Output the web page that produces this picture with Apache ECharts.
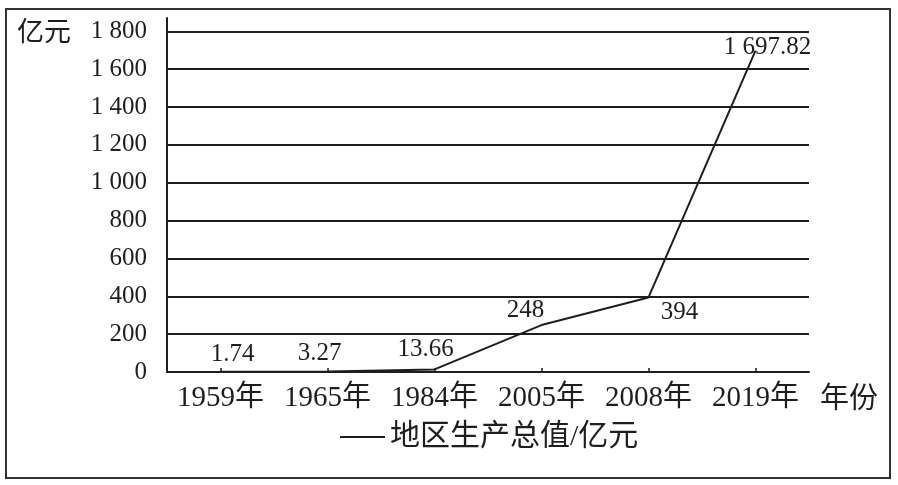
<!DOCTYPE html>
<html><head><meta charset="utf-8">
<script src="https://cdn.jsdelivr.net/npm/echarts@6/dist/echarts.min.js"></script>
<style>html,body{margin:0;padding:0;background:#fff}#c{width:898px;height:485px}</style>
</head><body><div id="c"></div>
<script>
const categories = ['1959年','1965年','1984年','2005年','2008年','2019年'];
const gdpValues = [1.74, 3.27, 13.66, 248, 394, 1697.82];
const seriesName = '地区生产总值/亿元';
const yUnit = '亿元';
const xUnit = '年份';

const SERIF = '"Liberation Serif","Noto Sans CJK SC",serif';
const INK = '#1e1e1e';
function fmt(v){
  const s = String(v).split('.');
  s[0] = s[0].replace(/\B(?=(\d{3})+(?!\d))/g, ' ');
  return s.join('.');
}
const labelStyle = [
  {position:'top', offset:[12,0]},
  {position:'top', offset:[-8,0]},
  {position:'top', offset:[-9,-2]},
  {position:'top', offset:[-16,3]},
  {position:'bottom', offset:[31,-3]},
  {position:'top', offset:[12,14]}
];
const chart = echarts.init(document.getElementById('c'));
chart.setOption({
  backgroundColor:'#fff',
  animation:false,
  grid:{left:167, right:89, top:18, bottom:113},
  xAxis:{
    type:'category', data:categories, boundaryGap:true,
    axisLine:{lineStyle:{color:INK, width:2}},
    axisTick:{show:true, inside:true, alignWithLabel:true, interval:0, length:4, lineStyle:{color:INK,width:1.5}},
    axisLabel:{fontFamily:SERIF, fontSize:29, color:INK, margin:12, interval:0, hideOverlap:false}
  },
  yAxis:{
    type:'value', min:0, max:1870, interval:200,
    axisLine:{show:true, lineStyle:{color:INK, width:2}},
    axisTick:{show:false},
    splitLine:{show:true, showMaxLine:false, lineStyle:{color:INK, width:2}},
    axisLabel:{fontFamily:SERIF, fontSize:25, color:INK, margin:20, showMaxLabel:false,
      formatter:function(v){return v>1800?'':fmt(v);}}
  },
  legend:{
    bottom:28, left:335, icon:'rect', itemWidth:45, itemHeight:2, itemGap:10,
    textStyle:{fontFamily:SERIF, fontSize:30, color:INK},
    data:[seriesName]
  },
  graphic:[
    {type:'rect', shape:{x:6,y:9,width:884,height:469}, style:{fill:'none', stroke:'#333', lineWidth:2}},
    {type:'text', left:17, top:17, style:{text:yUnit, font:'27px "Noto Sans CJK SC"', fill:INK}},
    {type:'text', left:820, top:382, style:{text:xUnit, font:'29px "Noto Sans CJK SC"', fill:INK}}
  ],
  series:[{
    name:seriesName, type:'line', showSymbol:true, symbol:'circle', symbolSize:0.1,
    lineStyle:{color:INK, width:2}, itemStyle:{color:INK},
    data:gdpValues.map(function(v,i){
      return {value:v, label:{show:true, position:labelStyle[i].position, offset:labelStyle[i].offset, distance:5,
        fontFamily:SERIF, fontSize:25, color:INK, formatter:function(p){return fmt(p.value);}}};
    })
  }]
});
</script></body></html>
